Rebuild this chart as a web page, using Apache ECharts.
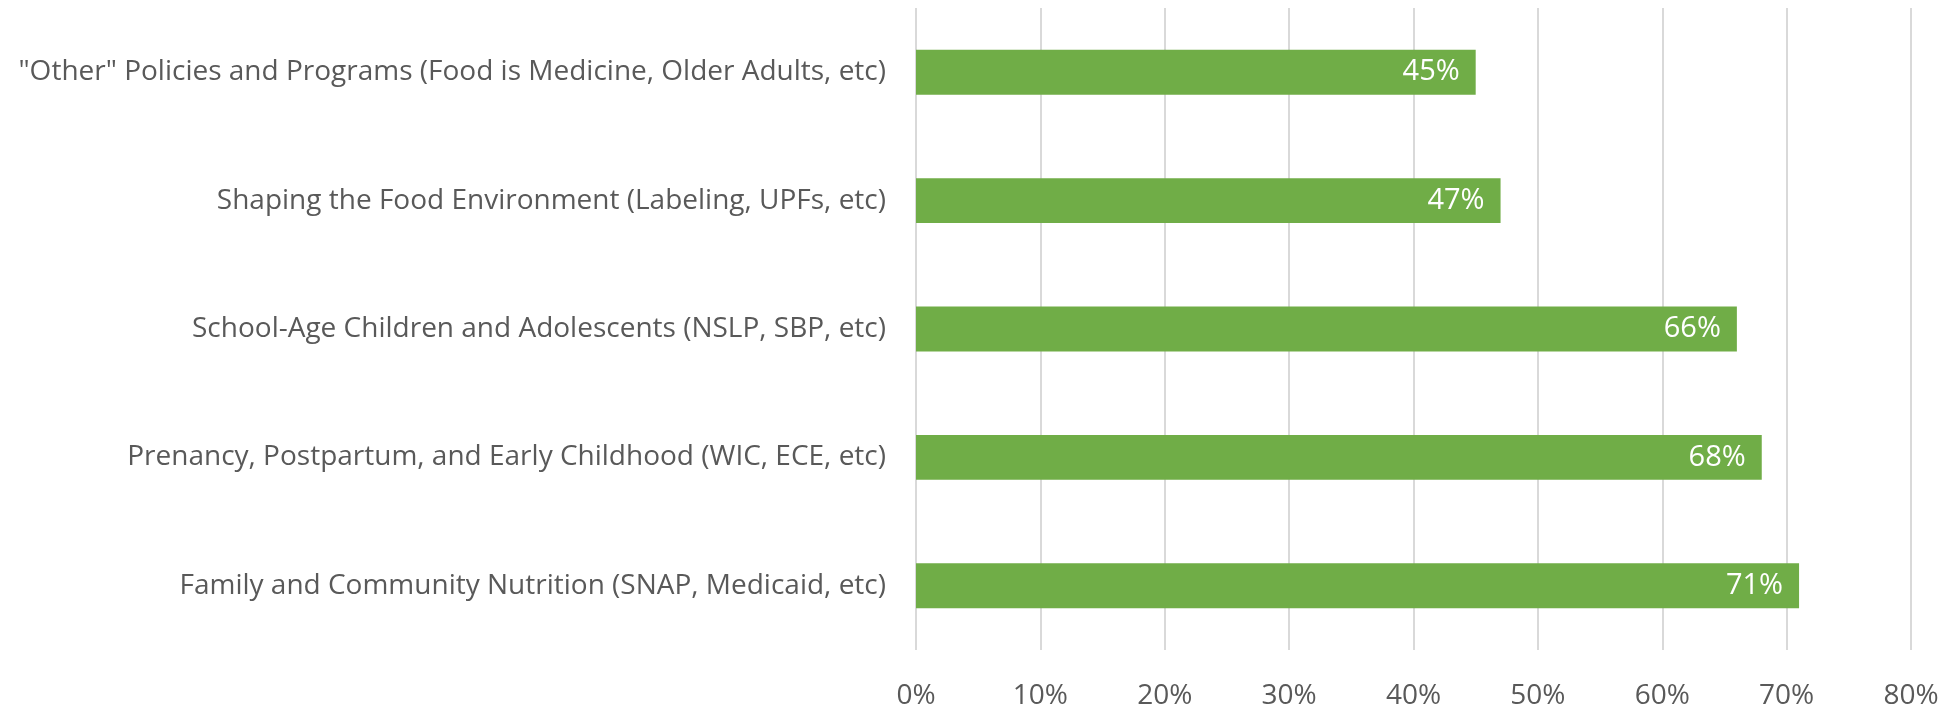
<!DOCTYPE html>
<html>
<head>
<meta charset="utf-8">
<script src="https://cdn.jsdelivr.net/npm/echarts@6/dist/echarts.min.js"></script>
<style>
  html, body { margin: 0; padding: 0; background: #fff; }
  #chart { width: 1949px; height: 705px; }
</style>
</head>
<body>
<div id="chart"></div>
<script>
// categories listed bottom to top (as the y axis draws them)
const categories = [
  "Family and Community Nutrition (SNAP, Medicaid, etc)",
  "Prenancy, Postpartum, and Early Childhood (WIC, ECE, etc)",
  "School-Age Children and Adolescents (NSLP, SBP, etc)",
  "Shaping the Food Environment (Labeling, UPFs, etc)",
  "\"Other\" Policies and Programs (Food is Medicine, Older Adults, etc)"
];
const values = [71, 68, 66, 47, 45];

const chart = echarts.init(document.getElementById("chart"));
chart.setOption({
  animation: false,
  grid: {
    left: 916, right: 38, top: 8, bottom: 55,
    containLabel: false,
    outerBoundsMode: "none"
  },
  xAxis: {
    type: "value",
    min: 0,
    max: 80,
    interval: 10,
    axisLine: { show: false },
    axisTick: { show: false },
    splitLine: { show: true, lineStyle: { color: "#d9d9d9", width: 2 } },
    axisLabel: {
      formatter: "{value}%",
      color: "#595959",
      fontFamily: "Open Sans",
      fontSize: 28,
      margin: 32
    }
  },
  yAxis: {
    type: "category",
    data: categories,
    axisLine: { show: false },
    axisTick: { show: false },
    axisLabel: {
      color: "#595959",
      fontFamily: "Open Sans",
      fontSize: 28,
      margin: 30
    }
  },
  series: [
    {
      type: "bar",
      data: values,
      barWidth: "35%",
      itemStyle: { color: "#70ad47" },
      label: {
        show: true,
        position: "insideRight",
        distance: 16,
        formatter: "{c}%",
        color: "#ffffff",
        fontFamily: "Open Sans",
        fontSize: 29
      }
    }
  ]
});
</script>
</body>
</html>
